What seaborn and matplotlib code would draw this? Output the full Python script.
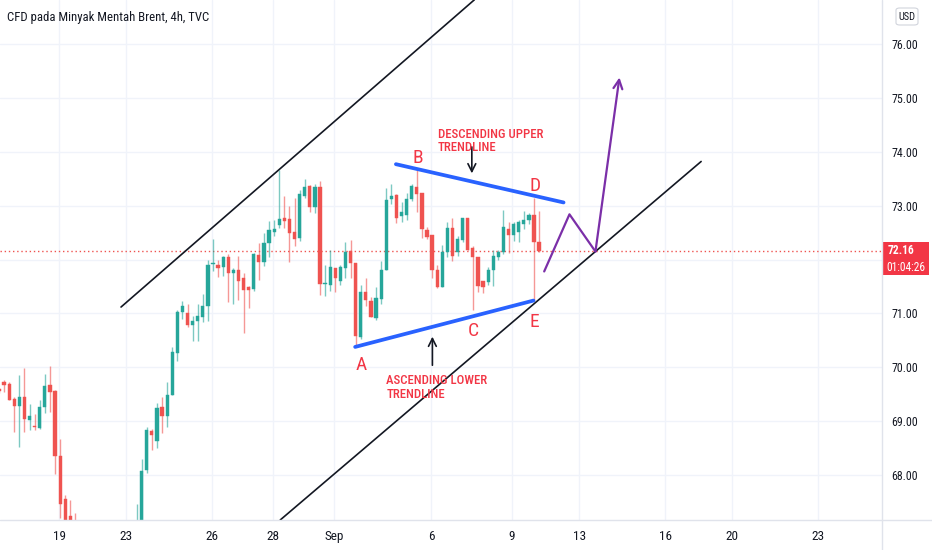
import numpy as np
import pandas as pd
import matplotlib
matplotlib.use("Agg")
import matplotlib.pyplot as plt
import seaborn as sns
from matplotlib import font_manager as fm
from matplotlib.patches import Rectangle, FancyBboxPatch
from matplotlib.lines import Line2D

# ---------------- data (4h candles) ----------------
opens = [69.60, 69.73, 69.70, 69.42, 69.29, 69.46, 69.03, 68.92, 68.87, 69.27,
         69.68, 69.57, 68.35, 67.55, 67.24, 67.00, 66.80, 66.45, 66.20, 65.90,
         65.70, 65.55, 65.45, 65.75, 65.95, 66.20, 66.50, 66.75, 67.05, 68.09,
         68.82, 68.64, 69.26, 69.09, 69.48, 70.27, 71.02, 71.00, 70.79, 70.87,
         70.94, 71.14, 71.91, 71.90, 71.87, 72.05, 71.75, 71.81, 71.65, 71.49,
         71.45, 72.09, 71.96, 72.30, 72.52, 72.64, 72.77, 72.75, 72.52, 72.40,
         73.18, 73.37, 72.98, 73.35, 71.55, 71.53, 71.85, 71.61, 71.85, 72.16,
         71.94, 70.57, 71.39, 71.23, 70.92, 71.26, 71.81, 73.12, 73.20, 72.80,
         72.83, 73.12, 73.34, 73.24, 72.55, 72.46, 71.81, 71.50, 72.15, 72.58,
         72.15, 72.36, 72.78, 72.21, 72.04, 71.60, 71.59, 71.81, 72.04, 72.15,
         72.56, 72.46, 72.52, 72.66, 72.73, 72.83, 72.32]
highs = [69.62, 69.77, 69.72, 69.45, 69.86, 69.99, 69.32, 69.14, 69.40, 69.88,
         70.03, 69.58, 68.67, 67.64, 67.54, 67.29, 66.95, 66.70, 66.40, 66.15,
         65.95, 65.80, 65.90, 66.10, 66.35, 66.65, 66.90, 67.47, 68.30, 68.89,
         68.86, 69.34, 69.46, 69.72, 70.37, 71.07, 71.23, 71.18, 70.95, 71.18,
         71.36, 71.99, 72.39, 72.00, 72.07, 72.10, 71.84, 72.07, 71.76, 71.51,
         72.13, 72.31, 72.50, 72.72, 72.73, 73.66, 73.18, 72.99, 73.14, 73.30,
         73.49, 73.38, 73.40, 73.45, 71.90, 72.18, 71.85, 71.90, 72.33, 72.36,
         71.94, 71.53, 71.65, 71.31, 71.49, 71.97, 73.32, 73.41, 73.22, 73.07,
         73.23, 73.41, 73.66, 73.24, 72.61, 72.46, 71.90, 72.27, 72.70, 72.77,
         72.43, 72.77, 72.78, 72.25, 72.04, 71.60, 71.87, 72.18, 72.18, 72.92,
         72.70, 72.70, 72.74, 72.91, 72.86, 73.14, 72.91]
lows = [69.52, 69.55, 69.39, 68.81, 68.52, 68.81, 68.84, 68.83, 68.85, 69.15,
        69.18, 68.03, 67.20, 66.90, 66.80, 66.60, 66.30, 66.05, 65.75, 65.50,
        65.35, 65.20, 65.30, 65.60, 65.80, 66.05, 66.35, 66.60, 66.95, 68.05,
        68.47, 68.50, 68.79, 68.89, 69.48, 70.11, 70.89, 70.75, 70.49, 70.49,
        70.85, 70.87, 71.79, 71.68, 71.70, 71.22, 71.18, 71.25, 70.63, 71.10,
        71.41, 71.63, 71.88, 72.04, 72.43, 72.58, 72.58, 71.96, 72.25, 72.35,
        73.14, 72.89, 72.87, 71.34, 71.33, 71.41, 71.39, 71.53, 71.65, 71.65,
        70.40, 70.52, 71.14, 70.93, 70.88, 71.18, 71.81, 73.04, 72.68, 72.70,
        72.74, 73.08, 72.89, 72.40, 72.38, 71.65, 71.47, 71.49, 72.04, 71.98,
        72.07, 72.33, 72.17, 71.07, 71.39, 71.38, 71.53, 71.51, 72.00, 72.10,
        72.12, 72.35, 72.33, 72.56, 72.66, 71.25, 72.15]
closes = [69.56, 69.68, 69.40, 69.29, 69.46, 69.05, 69.10, 68.89, 69.26, 69.66,
          69.55, 68.36, 67.47, 67.05, 66.95, 66.80, 66.45, 66.20, 65.90, 65.70,
          65.55, 65.45, 65.75, 65.95, 66.20, 66.50, 66.75, 67.05, 68.08, 68.84,
          68.75, 69.24, 69.09, 69.48, 70.28, 71.02, 71.13, 70.79, 70.87, 70.95,
          71.14, 71.90, 71.94, 71.85, 72.04, 71.75, 71.81, 71.61, 71.44, 71.44,
          72.10, 71.96, 72.30, 72.55, 72.56, 72.75, 72.72, 72.50, 72.38, 73.22,
          73.34, 72.97, 73.35, 71.55, 71.57, 71.86, 71.65, 71.87, 72.15, 71.93,
          70.59, 71.39, 71.25, 70.94, 71.28, 71.81, 73.11, 73.18, 72.78, 72.89,
          73.12, 73.37, 73.22, 72.56, 72.41, 71.80, 71.50, 72.15, 72.58, 72.07,
          72.38, 72.77, 72.18, 72.04, 71.51, 71.50, 71.81, 72.06, 72.15, 72.60,
          72.46, 72.66, 72.69, 72.73, 72.82, 72.33, 72.16]

date_tick_pos = [11.86, 24.93, 41.8, 53.8, 65.8, 84.8, 100.7, 113.9, 130.8, 143.9, 160.8]
date_tick_labels = ["19", "23", "26", "28", "Sep", "6", "9", "13", "16", "20", "23"]
price_ticks = [68, 69, 70, 71, 72, 73, 74, 75, 76]
last_price = 72.16
countdown = "01:04:26"
title = "CFD pada Minyak Mentah Brent, 4h, TVC"

# drawings (candle index, price)
upper_channel_x = [23.95, 93.3]
upper_channel_y = [71.12, 76.82]
lower_channel_x = [55.2, 137.8]
lower_channel_y = [67.17, 73.82]
upper_trend_x = [77.9, 110.8]
upper_trend_y = [73.77, 73.06]
lower_trend_x = [69.9, 104.9]
lower_trend_y = [70.38, 71.24]
path_x = [107.0, 111.96, 117.06]
path_y = [71.78, 72.84, 72.15]
path_tip = (121.77, 75.38)
point_labels = ["A", "B", "C", "D", "E"]
point_x = [71.06, 82.1, 93.1, 105.2, 105.1]
point_y = [70.04, 73.89, 70.68, 73.37, 70.85]

# ---------------- styling ----------------
GREEN = "#26a69a"
RED = "#ef5350"
TXT_RED = "#f23645"
BLUE = "#2962ff"
PURPLE = "#7b2fa8"
INK = "#131722"
GRID = "#f0f3fa"
SEP = "#e0e3eb"

sns.set_theme(style="white")

# choose a narrow family if one is installed
fams = {}
for f in fm.fontManager.ttflist:
    fams.setdefault(f.name, set()).add(f.stretch)
family, stretch, narrow = ["DejaVu Sans"], "normal", False
for cand in ["Roboto Condensed", "Liberation Sans Narrow", "Open Sans Condensed",
             "Noto Sans Condensed", "DejaVu Sans Condensed"]:
    if cand in fams:
        family, narrow = [cand, "DejaVu Sans"], True
        break
if not narrow:
    for nm in ["Roboto", "Noto Sans", "Liberation Sans", "DejaVu Sans", "Open Sans"]:
        st = fams.get(nm, set())
        cond = [s for s in st if s in ("condensed", "semi-condensed", "extra-condensed")]
        if cond:
            family, stretch, narrow = [nm, "DejaVu Sans"], sorted(cond)[0], True
            break
if not narrow and "Roboto" in fams:
    family = ["Roboto", "DejaVu Sans"]
plt.rcParams["font.family"] = family
plt.rcParams["font.stretch"] = stretch
k = 1.0 if narrow else 0.85  # size factor for wide fallback fonts

W, H = 932, 550
fig = plt.figure(figsize=(W / 100, H / 100), dpi=100)
fig.patch.set_facecolor("white")
ax = fig.add_axes([0, 30 / H, 882 / W, 520 / H])

df = pd.DataFrame({"i": np.arange(len(opens)), "open": opens, "high": highs,
                   "low": lows, "close": closes})
df["up"] = df["close"] >= df["open"]
df["color"] = np.where(df["up"], GREEN, RED)
df["bottom"] = df[["open", "close"]].min(axis=1)
df["height"] = (df["close"] - df["open"]).abs().clip(lower=0.015)

ax.vlines(df["i"], df["low"], df["high"], colors=df["color"], lw=1.0, alpha=0.6, zorder=3)
ax.bar(df["i"], df["height"], bottom=df["bottom"], width=0.64, color=df["color"],
       edgecolor=df["color"], lw=0.3, zorder=4)

ax.axhline(last_price, color=RED, lw=1, ls=(0, (1, 2)), zorder=2)

sns.lineplot(x=upper_channel_x, y=upper_channel_y, ax=ax, color=INK, lw=1.2, zorder=5)
sns.lineplot(x=lower_channel_x, y=lower_channel_y, ax=ax, color=INK, lw=1.2, zorder=5)
sns.lineplot(x=upper_trend_x, y=upper_trend_y, ax=ax, color=BLUE, lw=2.7, zorder=6)
sns.lineplot(x=lower_trend_x, y=lower_trend_y, ax=ax, color=BLUE, lw=2.7, zorder=6)
sns.lineplot(x=path_x, y=path_y, ax=ax, color=PURPLE, lw=1.6, sort=False, estimator=None, zorder=6)
ax.annotate("", xy=path_tip, xytext=(path_x[-1], path_y[-1]),
            arrowprops=dict(arrowstyle="->", color=PURPLE, lw=1.6, mutation_scale=16,
                            shrinkA=0, shrinkB=0), zorder=6)

ax.annotate("", xy=(92.8, 73.60), xytext=(92.8, 74.09),
            arrowprops=dict(arrowstyle="->", color=INK, lw=1.2, mutation_scale=14,
                            shrinkA=0, shrinkB=0))
ax.annotate("", xy=(85.06, 70.57), xytext=(85.06, 70.04),
            arrowprops=dict(arrowstyle="->", color=INK, lw=1.2, mutation_scale=14,
                            shrinkA=0, shrinkB=0))

ax.text(86.1, 74.20, "DESCENDING UPPER\nTRENDLINE", color=TXT_RED, fontsize=9.2 * k,
        ha="left", va="center", linespacing=1.05, fontweight="medium", zorder=7)
ax.text(76.0, 69.63, "ASCENDING LOWER\nTRENDLINE", color=TXT_RED, fontsize=9.2 * k,
        ha="left", va="center", linespacing=1.05, fontweight="medium", zorder=7)
for lab, px, py in zip(point_labels, point_x, point_y):
    ax.text(px, py, lab, color=TXT_RED, fontsize=14, ha="center", va="center", zorder=7)

ax.set_xlim(0.196, 173.3)
ax.set_ylim(67.169, 76.816)
ax.set_xticks(date_tick_pos)
ax.set_xticklabels(date_tick_labels)
ax.set_yticks(price_ticks)
# the 72.00 label sits under the last-price tag, so it is left blank
ax.set_yticklabels(["" if abs(v - last_price) < 0.5 else f"{v:.2f}" for v in price_ticks])
ax.yaxis.tick_right()
ax.tick_params(axis="y", length=0, pad=7, labelsize=8.6 * k, labelcolor=INK)
ax.tick_params(axis="x", length=0, pad=7, labelsize=9.5 * k, labelcolor=INK)
ax.grid(True, color=GRID, lw=1)
ax.set_axisbelow(True)
for s in ["top", "left", "right", "bottom"]:
    ax.spines[s].set_visible(False)

fig.add_artist(Line2D([0, 1], [30 / H, 30 / H], transform=fig.transFigure, color=SEP, lw=1))
fig.add_artist(Line2D([882 / W, 882 / W], [0, 1], transform=fig.transFigure, color=SEP, lw=1))

fig.text(7 / W, 1 - 18 / H, title, ha="left", va="center", fontsize=9.2 * k, color=INK)

fig.add_artist(FancyBboxPatch((896 / W, 1 - 25 / H), 22 / W, 17 / H,
                              boxstyle="round,pad=0,rounding_size=0.004",
                              transform=fig.transFigure, facecolor="white",
                              edgecolor="#d1d4dc", lw=0.8))
fig.text(907 / W, 1 - 16.5 / H, "USD", ha="center", va="center", fontsize=7.5 * k, color=INK)

fig.add_artist(Rectangle((882 / W, 1 - 275 / H), 47 / W, 33 / H,
                         transform=fig.transFigure, facecolor=TXT_RED, edgecolor="none"))
fig.text(888 / W, 1 - 251 / H, f"{last_price:.2f}", ha="left", va="center",
         fontsize=8.3 * k, color="white", fontweight="bold")
fig.text(886 / W, 1 - 267.5 / H, countdown, ha="left", va="center",
         fontsize=(8.3 if narrow else 7.0), color="white")

fig.savefig("out.png", dpi=100, facecolor="white")
